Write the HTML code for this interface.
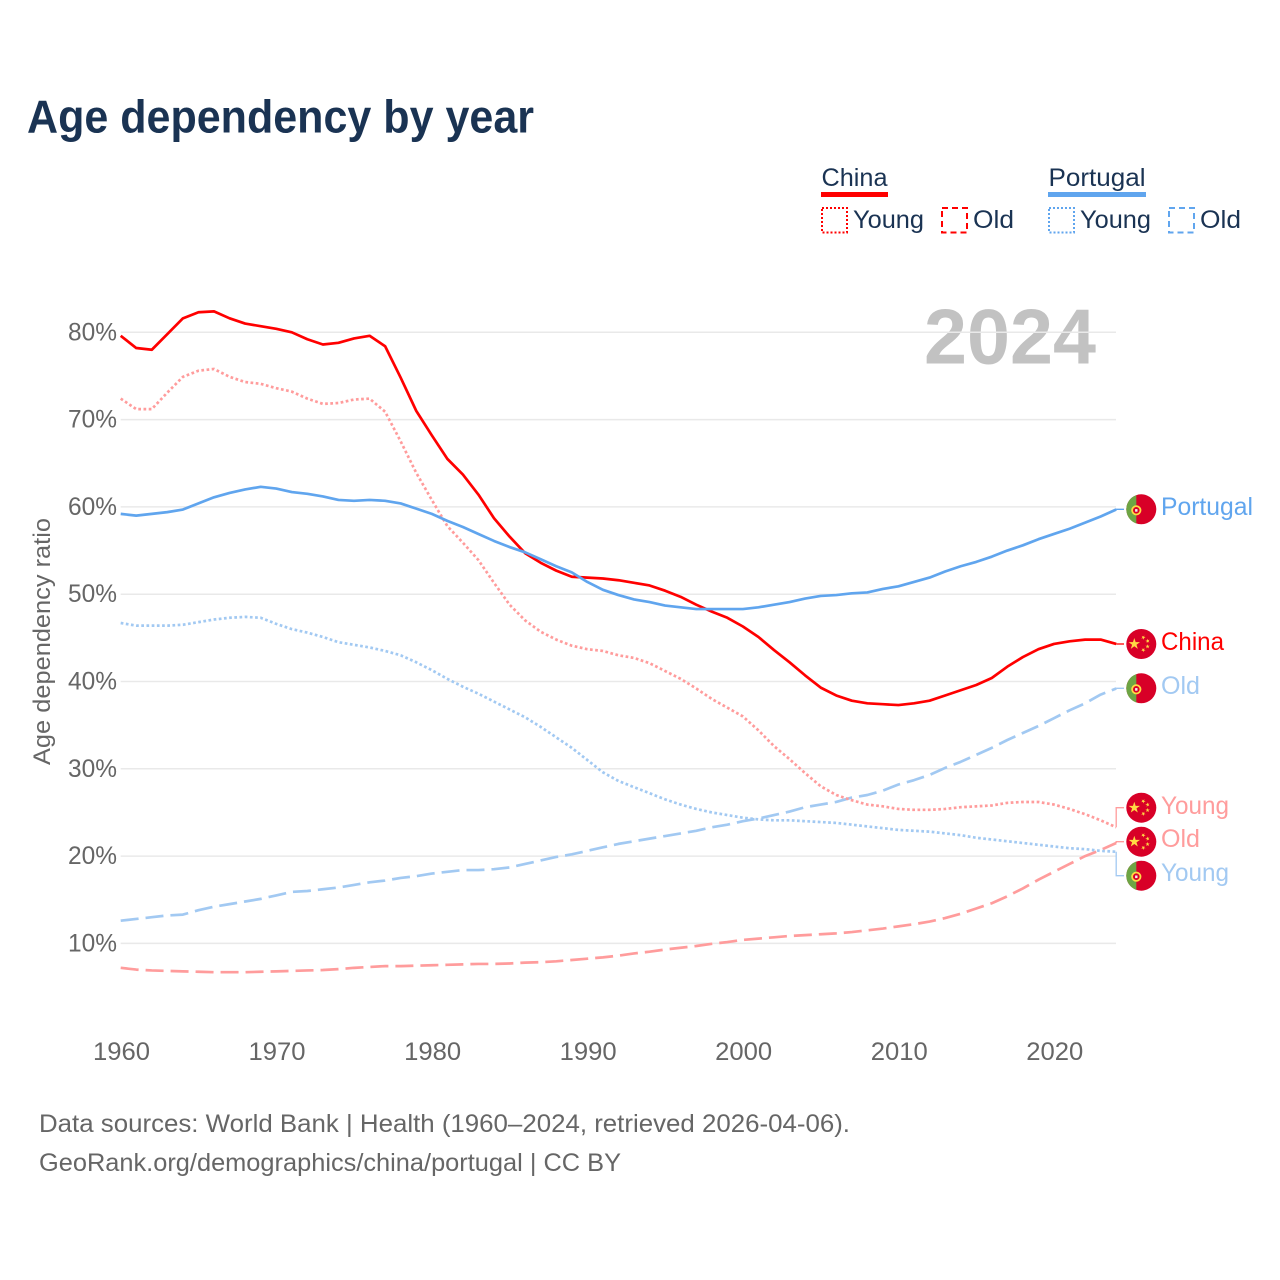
<!DOCTYPE html>
<html lang="en">
<head>
<meta charset="utf-8">
<title>Age dependency by year</title>
<style>
html,body{margin:0;padding:0;background:#fff;width:1280px;height:1280px;overflow:hidden}
svg{display:block}
text{font-family:"Liberation Sans",sans-serif}
.legend-text{font-size:25px;fill:#1a3353}
.foot{font-size:25px;fill:#666}
.tick{font-size:25px;fill:#666}
.end{font-size:25px}
</style>
</head>
<body>
<svg id="chart" xmlns="http://www.w3.org/2000/svg" width="1280" height="1280" viewBox="0 0 1280 1280">
  <rect x="0" y="0" width="1280" height="1280" fill="#fff"/>
  <text x="27" y="132.5" font-size="46" font-weight="700" fill="#1a3353" textLength="507" lengthAdjust="spacingAndGlyphs">Age dependency by year</text>

  <g>
    <text class="legend-text" x="821.5" y="186" textLength="66" lengthAdjust="spacingAndGlyphs">China</text>
    <rect x="821" y="192" width="67" height="5" fill="#ff0000"/>
    <rect x="822" y="208" width="25" height="24.5" fill="none" stroke="#ff0000" stroke-width="2" stroke-dasharray="2 2"/>
    <text class="legend-text" x="853" y="228" textLength="71" lengthAdjust="spacingAndGlyphs">Young</text>
    <rect x="942" y="208" width="25" height="24.5" fill="none" stroke="#ff0000" stroke-width="2" stroke-dasharray="6 4"/>
    <text class="legend-text" x="973" y="228" textLength="41" lengthAdjust="spacingAndGlyphs">Old</text>
    <text class="legend-text" x="1048.5" y="186" textLength="97" lengthAdjust="spacingAndGlyphs">Portugal</text>
    <rect x="1048" y="192" width="98" height="5" fill="#60a5ee"/>
    <rect x="1049" y="208" width="25" height="24.5" fill="none" stroke="#60a5ee" stroke-width="2" stroke-dasharray="2 2"/>
    <text class="legend-text" x="1080" y="228" textLength="71" lengthAdjust="spacingAndGlyphs">Young</text>
    <rect x="1169" y="208" width="25" height="24.5" fill="none" stroke="#60a5ee" stroke-width="2" stroke-dasharray="6 4"/>
    <text class="legend-text" x="1200" y="228" textLength="41" lengthAdjust="spacingAndGlyphs">Old</text>
  </g>

  <text x="924" y="363.5" font-size="78" font-weight="700" fill="#c2c2c2" textLength="172" lengthAdjust="spacingAndGlyphs">2024</text>
  <g id="grid"></g>
  <g id="yticks"></g>
  <g id="xticks"></g>
  <text transform="translate(50 641.5) rotate(-90)" text-anchor="middle" font-size="24" fill="#666" textLength="247" lengthAdjust="spacingAndGlyphs">Age dependency ratio</text>
  <g id="series"></g>
  <g id="ends"></g>

  <text class="foot" x="39" y="1132" textLength="811" lengthAdjust="spacingAndGlyphs">Data sources: World Bank | Health (1960–2024, retrieved 2026-04-06).</text>
  <text class="foot" x="39" y="1171" textLength="582" lengthAdjust="spacingAndGlyphs">GeoRank.org/demographics/china/portugal | CC BY</text>
</svg>
<script>
var startYear = 1960;
var yTickValues = [10, 20, 30, 40, 50, 60, 70, 80];
var yTickLabels = ['10%', '20%', '30%', '40%', '50%', '60%', '70%', '80%'];
var xTickValues = [1960, 1970, 1980, 1990, 2000, 2010, 2020];
var xTickLabels = ['1960', '1970', '1980', '1990', '2000', '2010', '2020'];

var chinaTotal = [
  79.6, 78.2, 78.0, 79.8, 81.6, 82.3, 82.4, 81.6, 81.0, 80.7,
  80.4, 80.0, 79.2, 78.6, 78.8, 79.3, 79.6, 78.4, 74.8, 71.0,
  68.2, 65.5, 63.7, 61.4, 58.7, 56.6, 54.7, 53.6, 52.7, 52.0,
  51.9, 51.8, 51.6, 51.3, 51.0, 50.4, 49.7, 48.8, 48.0, 47.3,
  46.3, 45.1, 43.6, 42.2, 40.7, 39.3, 38.4, 37.8, 37.5, 37.4,
  37.3, 37.5, 37.8, 38.4, 39.0, 39.6, 40.4, 41.7, 42.8, 43.7,
  44.3, 44.6, 44.8, 44.8, 44.3
];
var chinaYoung = [
  72.4, 71.2, 71.2, 73.1, 74.9, 75.6, 75.8, 74.9, 74.3, 74.1,
  73.6, 73.2, 72.4, 71.8, 71.9, 72.3, 72.4, 70.9, 67.5, 63.9,
  60.8, 57.8, 55.9, 53.9, 51.3, 48.8, 47.0, 45.7, 44.8, 44.1,
  43.7, 43.5, 43.0, 42.7, 42.1, 41.2, 40.3, 39.2, 38.0, 37.0,
  36.0, 34.4, 32.6, 31.1, 29.5, 28.0, 27.0, 26.4, 25.9, 25.7,
  25.4, 25.3, 25.3, 25.4, 25.6, 25.7, 25.8, 26.1, 26.2, 26.2,
  25.9, 25.4, 24.8, 24.1, 23.3
];
var chinaOld = [
  7.2, 7.0, 6.9, 6.85, 6.8, 6.75, 6.7, 6.7, 6.7, 6.75,
  6.8, 6.85, 6.9, 6.95, 7.05, 7.2, 7.3, 7.4, 7.4, 7.45,
  7.5, 7.55, 7.6, 7.65, 7.65, 7.7, 7.8, 7.85, 7.95, 8.1,
  8.25, 8.4, 8.6, 8.85, 9.05, 9.3, 9.5, 9.7, 9.95, 10.15,
  10.4, 10.55, 10.7, 10.85, 10.95, 11.05, 11.15, 11.3, 11.5, 11.7,
  11.95, 12.2, 12.5, 12.9, 13.4, 14.0, 14.6, 15.4, 16.3, 17.3,
  18.2, 19.1, 20.0, 20.7, 21.5
];
var portugalTotal = [
  59.2, 59.0, 59.2, 59.4, 59.7, 60.4, 61.1, 61.6, 62.0, 62.3,
  62.1, 61.7, 61.5, 61.2, 60.8, 60.7, 60.8, 60.7, 60.4, 59.8,
  59.2, 58.4, 57.7, 56.9, 56.1, 55.4, 54.8, 54.0, 53.2, 52.5,
  51.4, 50.5, 49.9, 49.4, 49.1, 48.7, 48.5, 48.3, 48.3, 48.3,
  48.3, 48.5, 48.8, 49.1, 49.5, 49.8, 49.9, 50.1, 50.2, 50.6,
  50.9, 51.4, 51.9, 52.6, 53.2, 53.7, 54.3, 55.0, 55.6, 56.3,
  56.9, 57.5, 58.2, 58.9, 59.7
];
var portugalYoung = [
  46.7, 46.4, 46.4, 46.4, 46.5, 46.8, 47.1, 47.3, 47.4, 47.3,
  46.6, 46.0, 45.6, 45.1, 44.5, 44.2, 43.9, 43.5, 43.0, 42.2,
  41.3, 40.3, 39.4, 38.6, 37.7, 36.8, 35.9, 34.8, 33.6, 32.4,
  31.0, 29.6, 28.6, 27.9, 27.2, 26.5, 25.9, 25.4, 25.0, 24.7,
  24.4, 24.2, 24.1, 24.1, 24.0, 23.9, 23.8, 23.6, 23.4, 23.2,
  23.0, 22.9, 22.8, 22.6, 22.4, 22.1, 21.9, 21.7, 21.5, 21.3,
  21.1, 20.9, 20.8, 20.6, 20.5
];
var portugalOld = [
  12.6, 12.8, 13.0, 13.2, 13.3, 13.8, 14.2, 14.5, 14.8, 15.1,
  15.5, 15.9, 16.0, 16.2, 16.4, 16.7, 17.0, 17.2, 17.5, 17.7,
  18.0, 18.2, 18.4, 18.4, 18.5, 18.7, 19.1, 19.5, 19.9, 20.2,
  20.6, 21.0, 21.4, 21.7, 22.0, 22.3, 22.6, 22.9, 23.3, 23.6,
  24.0, 24.3, 24.7, 25.1, 25.6, 25.9, 26.2, 26.7, 27.0, 27.5,
  28.2, 28.7, 29.3, 30.1, 30.8, 31.6, 32.4, 33.3, 34.1, 34.9,
  35.8, 36.7, 37.5, 38.5, 39.2
];

var NS = 'http://www.w3.org/2000/svg';
function xScale(year) { return 120.7 + (year - 1960) * 15.555; }
function yScale(v) { return 943.4 - (v - 10) * 8.73; }
function make(tag, attrs, parent) {
  var el = document.createElementNS(NS, tag);
  for (var k in attrs) { el.setAttribute(k, attrs[k]); }
  parent.appendChild(el);
  return el;
}

var gridG = document.getElementById('grid');
var yG = document.getElementById('yticks');
var xG = document.getElementById('xticks');
yTickValues.forEach(function (v, i) {
  var line = make('line', { x1: 120.7, x2: 1116, y1: yScale(v), y2: yScale(v), stroke: '#e9e9e9', 'stroke-width': 1.5 }, gridG);
  
  
  var t = make('text', { x: 117, y: yScale(v) + 8, 'text-anchor': 'end', 'class': 'tick', textLength: 49, lengthAdjust: 'spacingAndGlyphs' }, yG);
  t.textContent = yTickLabels[i];
  
  
});
xTickValues.forEach(function (v, i) {
  var t = make('text', { x: xScale(v) + 0.8, y: 1060.2, 'text-anchor': 'middle', 'class': 'tick', textLength: 57, lengthAdjust: 'spacingAndGlyphs' }, xG);
  t.textContent = xTickLabels[i];
  
  
});

var seriesG = document.getElementById('series');
function drawSeries(values, name, color, dash) {
  var pts = values.map(function (v, i) {
    return xScale(startYear + i).toFixed(2) + ',' + yScale(v).toFixed(2);
  }).join(' ');
  var p = make('polyline', { points: pts, fill: 'none', stroke: color, 'stroke-width': 2.7, 'stroke-linejoin': 'round' }, seriesG);
  if (dash) { p.setAttribute('stroke-dasharray', dash); }
  
  
}
var RED = '#ff0000', BLUE = '#60a5ee', LRED = '#ff9c9c', LBLUE = '#a2c9f2';
drawSeries(chinaOld, 'line-china-old', LRED, '18 7');
drawSeries(portugalOld, 'line-portugal-old', LBLUE, '18 7');
drawSeries(chinaYoung, 'line-china-young', LRED, '2.7 2.5');
drawSeries(portugalYoung, 'line-portugal-young', LBLUE, '2.7 2.5');
drawSeries(chinaTotal, 'line-china-total', RED, null);
drawSeries(portugalTotal, 'line-portugal-total', BLUE, null);

function starPoints(cx, cy, r, rot) {
  var out = [];
  for (var i = 0; i < 10; i++) {
    var a = rot + i * Math.PI / 5 - Math.PI / 2;
    var rr = i % 2 ? r * 0.382 : r;
    out.push((cx + rr * Math.cos(a)).toFixed(2) + ',' + (cy + rr * Math.sin(a)).toFixed(2));
  }
  return out.join(' ');
}
function drawFlag(country, cy, group) {
  var cx = 1141.3, r = 15;
  if (country === 'china') {
    make('circle', { cx: cx, cy: cy, r: r, fill: '#d80027' }, group);
    make('polygon', { points: starPoints(cx - 7, cy, 6, 0), fill: '#ffda44' }, group);
    make('polygon', { points: starPoints(cx + 2, cy - 6.5, 2.3, 0.5), fill: '#ffda44' }, group);
    make('polygon', { points: starPoints(cx + 6.3, cy - 3, 2.3, 1), fill: '#ffda44' }, group);
    make('polygon', { points: starPoints(cx + 6.3, cy + 2.5, 2.3, 0), fill: '#ffda44' }, group);
    make('polygon', { points: starPoints(cx + 2, cy + 6, 2.3, 0.5), fill: '#ffda44' }, group);
  } else {
    make('circle', { cx: cx, cy: cy, r: r, fill: '#d80027' }, group);
    var sweep = Math.sqrt(r * r - 25);
    make('path', { d: 'M' + (cx - 5) + ' ' + (cy - sweep) + ' A' + r + ' ' + r + ' 0 0 0 ' + (cx - 5) + ' ' + (cy + sweep) + ' Z', fill: '#6da544' }, group);
    make('circle', { cx: cx - 5, cy: cy + 1, r: 4.2, fill: '#d80027', stroke: '#ffda44', 'stroke-width': 1.8 }, group);
    make('rect', { x: cx - 6.2, y: cy - 0.2, width: 2.4, height: 2.6, fill: '#f0f0f0' }, group);
  }
}

var endG = document.getElementById('ends');
function drawEnd(values, name, country, label, color, flagY, textY, textW) {
  var g = make('g', {}, endG);
  
  
  var y0 = yScale(values[values.length - 1]);
  var x0 = xScale(startYear + values.length - 1);
  var d = 'M' + x0.toFixed(1) + ' ' + y0.toFixed(1) + ' L' + x0.toFixed(1) + ' ' + flagY + ' L1124 ' + flagY;
  var c = make('path', { d: d, fill: 'none', stroke: color, 'stroke-width': 1.3 }, g);
  
  
  var f = make('g', {}, g);
  
  
  drawFlag(country, flagY, f);
  var t = make('text', { x: 1161, y: textY, 'class': 'end', fill: color, textLength: textW, lengthAdjust: 'spacingAndGlyphs' }, g);
  t.textContent = label;
  
  
}
drawEnd(portugalTotal, 'portugal-total', 'portugal', 'Portugal', BLUE, 509.3, 515, 92);
drawEnd(chinaTotal, 'china-total', 'china', 'China', RED, 644, 650, 63);
drawEnd(portugalOld, 'portugal-old', 'portugal', 'Old', LBLUE, 688.3, 694, 39);
drawEnd(chinaYoung, 'china-young', 'china', 'Young', LRED, 807.7, 814, 68);
drawEnd(chinaOld, 'china-old', 'china', 'Old', LRED, 841.7, 847, 39);
drawEnd(portugalYoung, 'portugal-young', 'portugal', 'Young', LBLUE, 875.7, 881, 68);
</script>
</body>
</html>
